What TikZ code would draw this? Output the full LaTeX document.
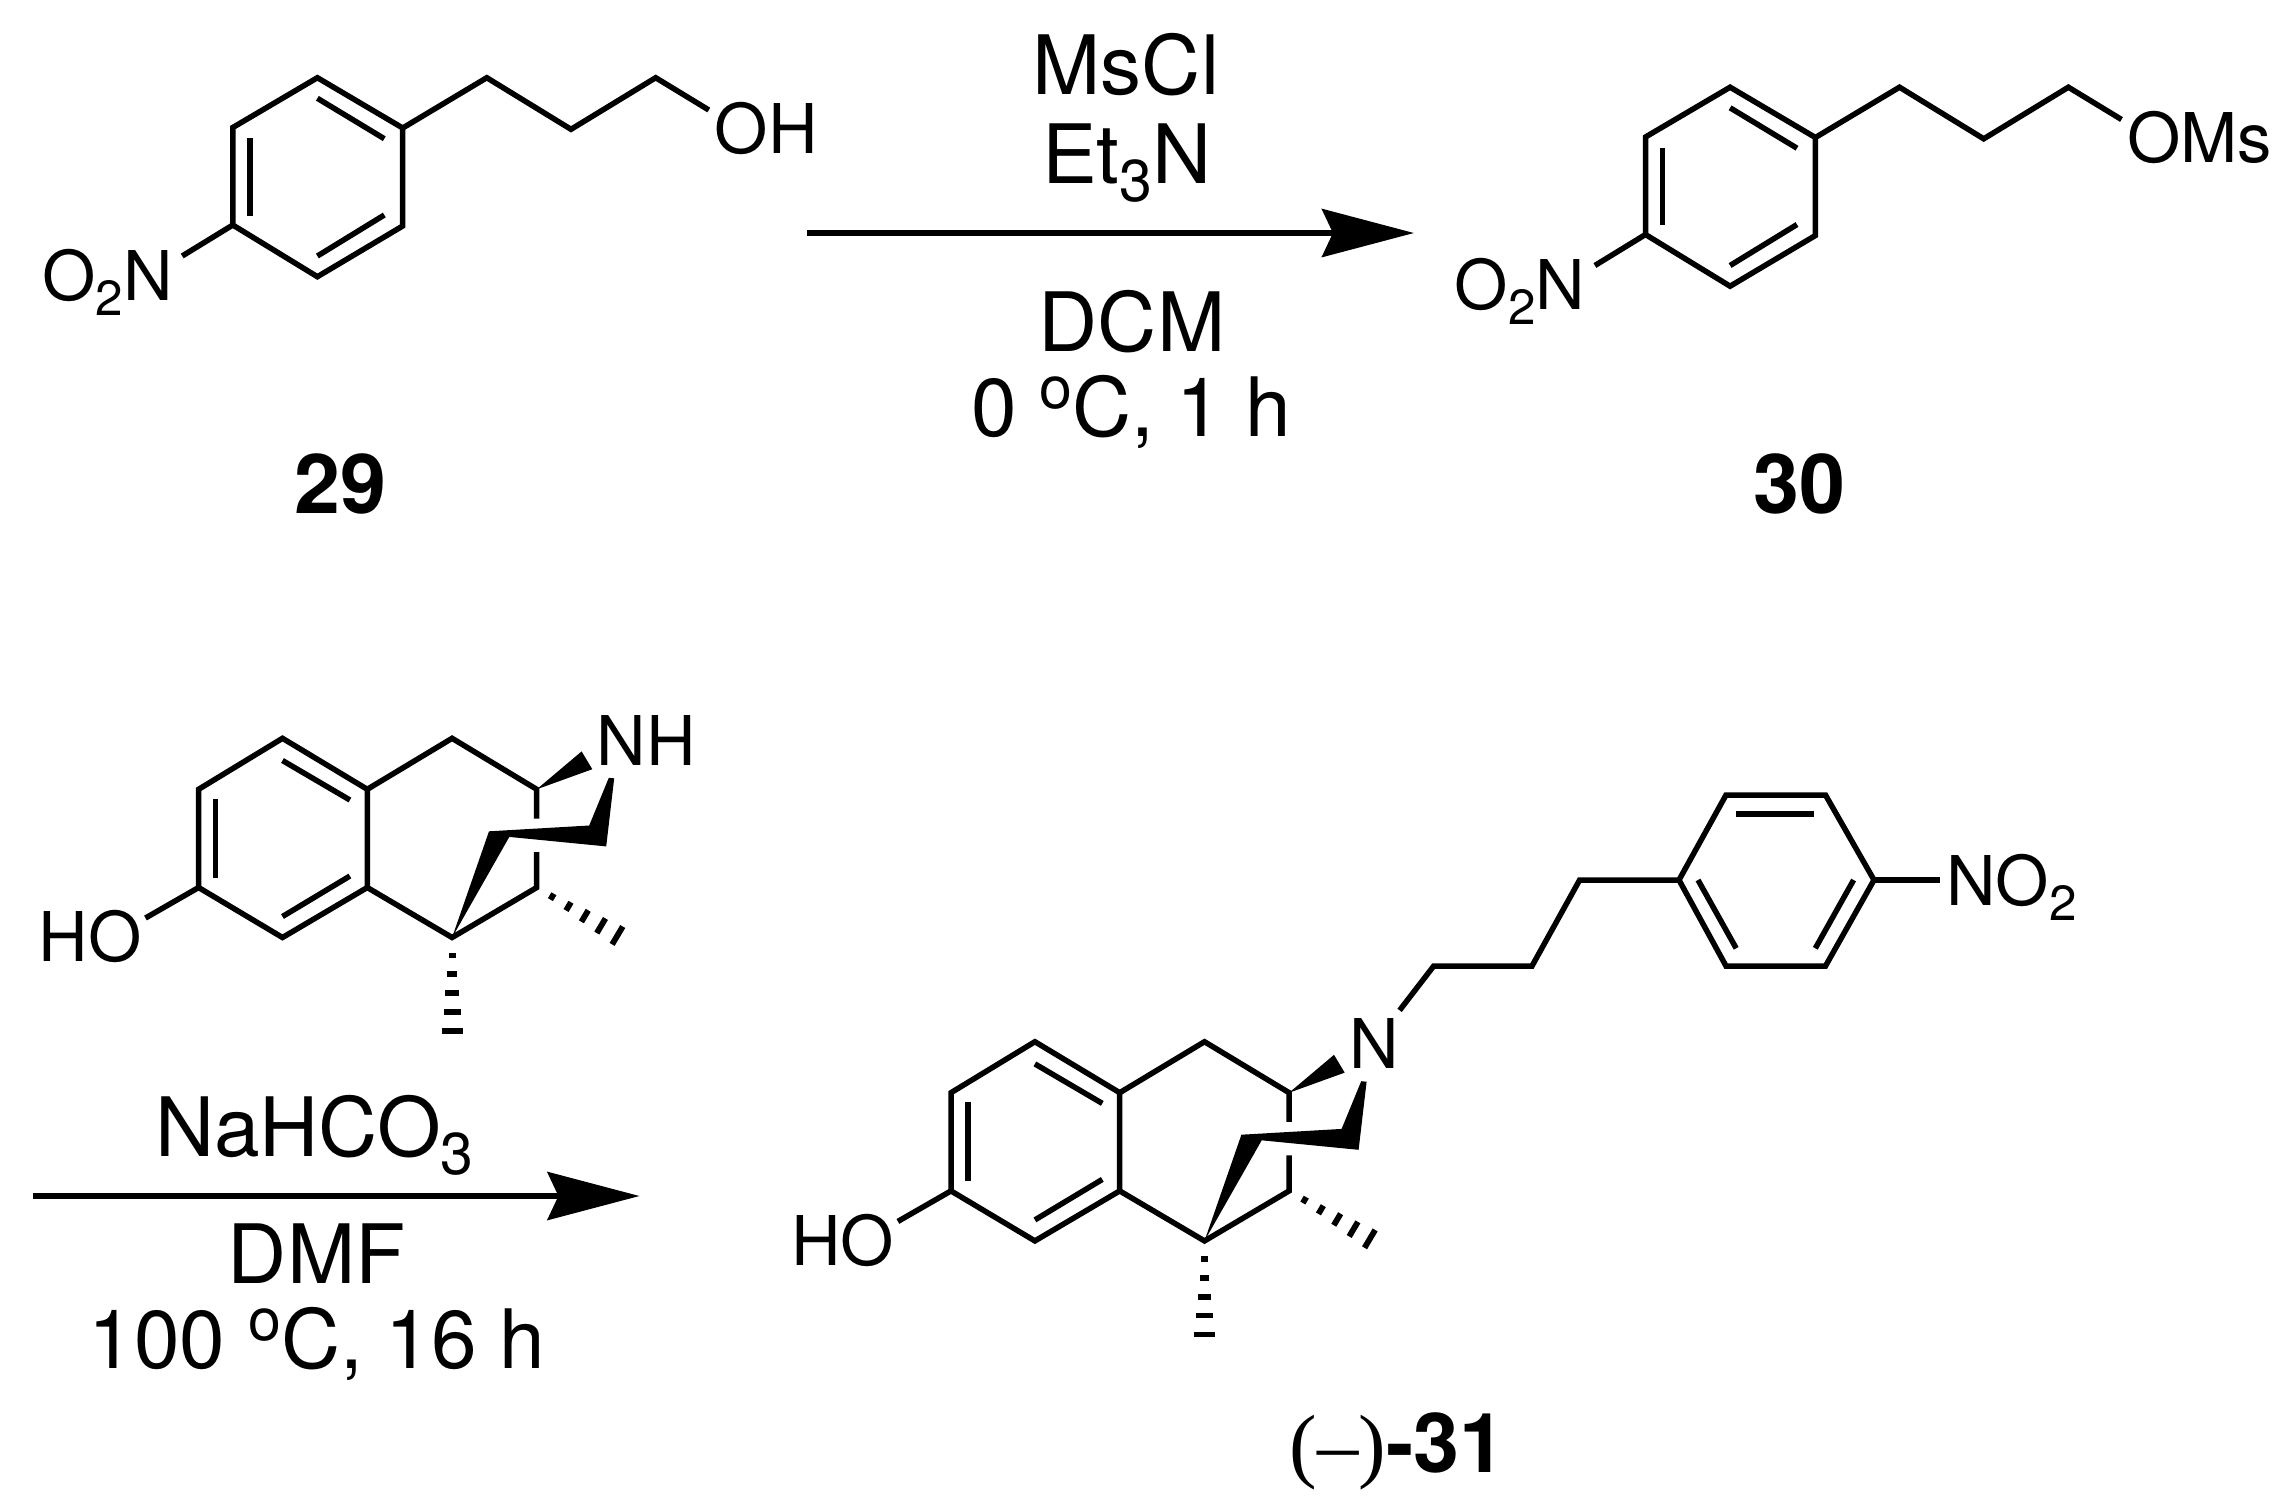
\documentclass[tikz,border=0pt]{standalone}
\usepackage{fontspec}
\setmainfont{TeX Gyre Heros}
\newfontfamily\timesfont{Liberation Serif}
\usetikzlibrary{arrows.meta,calc}
\newcommand{\chsub}[1]{\raisebox{-0.22em}{\scalebox{0.72}{#1}}}
\newcommand{\chsup}[1]{\raisebox{0.34em}{\scalebox{0.72}{#1}}}
\tikzset{
  bond/.style={line width=0.055cm},
  hashbar/.style={line width=0.058cm},
  atomlabel/.style={anchor=base west,inner sep=0pt,font=\fontsize{19.5}{24}\selectfont},
  reagent/.style={anchor=base,inner sep=0pt,font=\fontsize{23.3}{28}\selectfont},
  cmpdlabel/.style={anchor=base,inner sep=0pt,font=\fontsize{23.5}{28}\selectfont\bfseries},
  rxnarrow/.style={bond,-{Stealth[length=0.92cm,width=0.48cm,inset=0.11cm]}}
}
% hashed bond from #1 to #2
\newcommand{\hashbond}[2]{
  \foreach \pos/\hw in {0.18/0.034,0.37/0.048,0.56/0.067,0.75/0.085,0.94/0.104}
    \draw[hashbar] ($(#1)!\pos!(#2)!\hw cm!90:(#2)$) -- ($(#1)!\pos!(#2)!-\hw cm!90:(#2)$);
}
% 4-nitrophenyl propyl chain, #1 is the end group
\newcommand{\nitrochain}[1]{
  \foreach \n/\x/\y in {r1/317.4/77.7,r2/402.7/128,r3/402.7/226,r4/317.4/276.7,r5/232.8/225,r6/232.8/127.5,
    c1/486.8/77.7,c2/571/129.3,c3/655.7/77.7,endb/708.8/110,nb/182.2/256,
    i1/317.4/98.3,i2/384.3/138.7,i3/250/138.3,i4/250/215.7,i5/317.4/256,i6/384.3/215}
    \coordinate (\n) at (\x,\y);
  \draw[bond] (r1) -- (r2) -- (r3) -- (r4) -- (r5) -- (r6) -- cycle;
  \draw[bond] (i1) -- (i2);
  \draw[bond] (i3) -- (i4);
  \draw[bond] (i5) -- (i6);
  \draw[bond] (r2) -- (c1) -- (c2) -- (c3) -- (endb);
  \draw[bond] (r5) -- (nb);
  \node[atomlabel] (no2) at (41.5,300) {O\chsub{2}N};
  \node[atomlabel] (endgroup) at (714,153.3) {#1};
}
% benzomorphan core, #1 is the nitrogen label
\newcommand{\morphan}[1]{
  \foreach \n/\x/\y in {r1/282.5/738.3,r2/367.3/789.3,r3/367.3/887.5,r4/282.5/937.5,r5/198.6/887.5,r6/198.6/789.3,
    c1/452.1/738.3,c2/536.7/789.3,c3/536.7/887.5,c4/452.1/937.5,
    i1/282.5/760.5,i2/349.9/800,i3/215.6/799,i4/215.6/877.5,i5/282.5/916.5,i6/349.9/876,
    s1/536.7/818.5,s2/536.7/852,ob/145.5/918,
    w1/489/831.3,w2/589.2/825.5,w3/608.8/777.8,w4/614.2/778.3,w5/606.2/846.4,w6/509.3/836.9,
    n1/581.6/751.4,n2/592.3/769.2,
    hm1/452.1/1037,hm2/622.6/938.5}
    \coordinate (\n) at (\x,\y);
  \draw[bond] (r1) -- (r2) -- (r3) -- (r4) -- (r5) -- (r6) -- cycle;
  \draw[bond] (i1) -- (i2);
  \draw[bond] (i3) -- (i4);
  \draw[bond] (i5) -- (i6);
  \draw[bond] (r2) -- (c1) -- (c2) -- (s1);
  \draw[bond] (s2) -- (c3) -- (c4) -- (r3);
  \draw[bond] (r5) -- (ob);
  \fill (c4) -- (w1) -- (w2) -- (w3) -- (w4) -- (w5) -- (w6) -- cycle;
  \fill (c2) -- (n1) -- (n2) -- cycle;
  \hashbond{c4}{hm1}
  \hashbond{c3}{hm2}
  \node[atomlabel] (hoa) at (38,961.6) {HO};
  \node[atomlabel] (nitrogen) at (596,765) {#1};
}

\begin{document}
\begin{tikzpicture}[x=0.01cm,y=-0.01cm]
\useasboundingbox (0,0) rectangle (2281,1511);
% top row
\begin{scope}[name prefix=a-]
\nitrochain{OH}
\end{scope}
\begin{scope}[name prefix=b-,shift={(1412.7,9.5)}]
\nitrochain{OMs}
\end{scope}
\node[cmpdlabel] (cmpd29) at (340,513.3) {29};
\node[cmpdlabel] (cmpd30) at (1799,513.3) {30};
\coordinate (arrowastart) at (807,233);
\coordinate (arrowaend) at (1414,233);
\draw[rxnarrow] (arrowastart) -- (arrowaend);
\node[reagent] (mscl) at (1126,94.3) {MsCl};
\node[reagent] (et3n) at (1127,183.3) {Et\chsub{3}N};
\node[reagent] (dcm) at (1132,351.5) {DCM};
\node[reagent] (tempa) at (1131,436) {0 \chsup{o}C, 1 h};
% bottom row
\begin{scope}[name prefix=c-]
\morphan{NH}
\end{scope}
\coordinate (arrowbstart) at (32.6,1196);
\coordinate (arrowbend) at (639.5,1196);
\draw[rxnarrow] (arrowbstart) -- (arrowbend);
\node[reagent] (nahco3) at (314.5,1156) {NaHCO\chsub{3}};
\node[reagent] (dmf) at (316.7,1283) {DMF};
\node[reagent] (tempb) at (317,1368) {100 \chsup{o}C, 16 h};
\begin{scope}[name prefix=d-,shift={(752.4,303.4)}]
\morphan{N}
\end{scope}
% side chain of the product
\foreach \n/\x/\y in {nb/1399.6/1010.3,p1/1433.7/966,p2/1532/966,p3/1579.6/880,
  q1/1726/795,q2/1825.5/795,q3/1874/880,q4/1825.5/966,q5/1726/966,q6/1679/880,
  k1/1736.2/814,k2/1814.3/814,k3/1698/880,k4/1736.2/948.3,k5/1853.6/880,k6/1815.3/948.3,no/1940.3/880}
  \coordinate (\n) at (\x,\y);
\draw[bond] (nb) -- (p1) -- (p2) -- (p3) -- (q6);
\draw[bond] (q1) -- (q2) -- (q3) -- (q4) -- (q5) -- (q6) -- cycle;
\draw[bond] (k1) -- (k2);
\draw[bond] (k3) -- (k4);
\draw[bond] (k5) -- (k6);
\draw[bond] (q3) -- (no);
\node[atomlabel] (no2c) at (1945.5,905.7) {NO\chsub{2}};
\node[cmpdlabel,anchor=base west,font=\fontsize{23.5}{28}\selectfont] (cmpd31) at (1289,1472.7) {{\timesfont(–)}\textbf{-31}};
\end{tikzpicture}
\end{document}
